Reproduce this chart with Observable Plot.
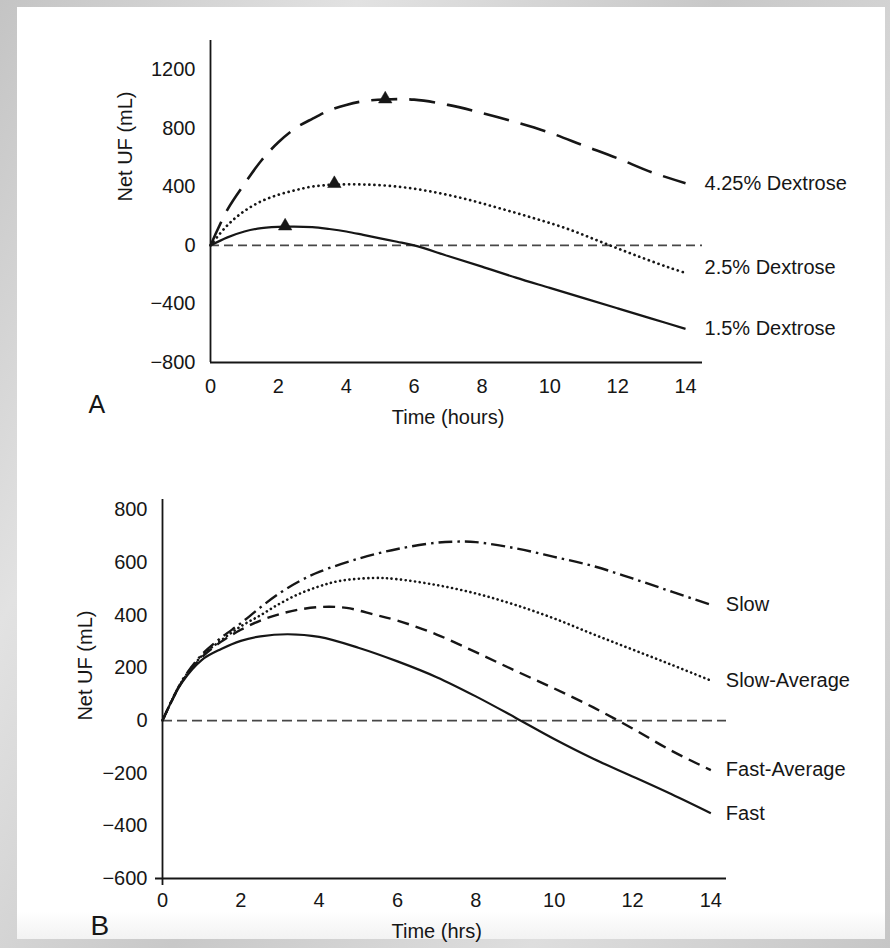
<!DOCTYPE html>
<html>
<head>
<meta charset="utf-8">
<script src="https://cdn.jsdelivr.net/npm/d3@7"></script>
<script src="https://cdn.jsdelivr.net/npm/@observablehq/plot@0.6"></script>
<style>
  html, body { margin: 0; padding: 0; }
  body {
    width: 890px; height: 948px; position: relative; overflow: hidden;
    background: linear-gradient(120deg, #c4c4c4 0%, #e2e2e2 25%, #c8c8c8 50%, #dedede 75%, #c6c6c6 100%);
    font-family: "Liberation Sans", Arial, Helvetica, sans-serif;
  }
  #paper {
    position: absolute; left: 17px; top: 7px; width: 868px; height: 932px;
    background: linear-gradient(180deg, #ffffff 0%, #ffffff 97%, #f2f2f2 100%);
  }
  .panel { position: absolute; left: 0; }
  #panelA { top: 0; }
  #panelB { top: 460px; }
</style>
</head>
<body>
<div id="paper"></div>
<div class="panel" id="panelA"></div>
<div class="panel" id="panelB"></div>
<script>
// ---------- Panel A data ----------
const xTicksA = [0, 2, 4, 6, 8, 10, 12, 14];
const yTicksA = [-800, -400, 0, 400, 800, 1200];
const xLabelA = "Time (hours)";
const yLabelA = "Net UF (mL)";
const panelLetterA = "A";

const d425Name = "4.25% Dextrose";
const d425T = [0, 0.5, 1, 1.5, 2, 2.5, 3, 3.5, 4, 4.5, 5.15, 6, 7, 8, 9, 10, 11, 12, 13, 14];
const d425V = [0, 245, 420, 580, 705, 800, 865, 922, 960, 985, 997, 996, 960, 905, 842, 770, 682, 595, 500, 425];

const d25Name = "2.5% Dextrose";
const d25T = [0, 0.5, 1, 1.5, 2, 2.5, 3, 3.65, 4.5, 5.5, 6.5, 7.5, 8.5, 9.5, 10.5, 11.5, 12.5, 13.5, 14];
const d25V = [0, 138, 235, 302, 346, 377, 402, 415, 416, 402, 368, 318, 255, 188, 115, 25, -65, -150, -188];

const d15Name = "1.5% Dextrose";
const d15T = [0, 0.5, 1, 1.5, 2.2, 3, 3.5, 4, 4.5, 5, 5.5, 6, 7, 8, 9, 10, 11, 12, 13, 14];
const d15V = [0, 55, 95, 118, 128, 125, 112, 95, 72, 48, 25, 0, -72, -145, -220, -290, -360, -430, -500, -570];

const peakT = [2.2, 3.65, 5.15];
const peakV = [132, 422, 1000];

// ---------- Panel B data ----------
const xTicksB = [0, 2, 4, 6, 8, 10, 12, 14];
const yTicksB = [-600, -400, -200, 0, 200, 400, 600, 800];
const xLabelB = "Time (hrs)";
const yLabelB = "Net UF (mL)";
const panelLetterB = "B";

const slowName = "Slow";
const slowT = [0, 0.5, 1, 1.5, 2, 2.5, 3, 3.5, 4, 5, 6, 7, 7.5, 8, 9, 10, 11, 12, 13, 14];
const slowV = [0, 152, 250, 315, 370, 430, 485, 530, 565, 615, 652, 676, 680, 678, 655, 622, 587, 540, 490, 440];

const slowAvgName = "Slow-Average";
const slowAvgT = [0, 0.5, 1, 1.5, 2, 2.5, 3, 3.5, 4, 4.5, 5.4, 6, 7, 8, 9, 10, 11, 12, 13, 14];
const slowAvgV = [0, 150, 245, 305, 358, 400, 445, 482, 510, 530, 542, 537, 515, 483, 440, 388, 328, 270, 212, 152];

const fastAvgName = "Fast-Average";
const fastAvgT = [0, 0.5, 1, 1.5, 2, 2.5, 3, 3.5, 4.1, 4.7, 5.4, 6, 7, 8, 9, 10, 11, 12, 13, 14];
const fastAvgV = [0, 148, 240, 300, 345, 380, 405, 422, 432, 428, 403, 380, 327, 260, 190, 122, 50, -30, -115, -188];

const fastName = "Fast";
const fastT = [0, 0.5, 1, 1.5, 2, 2.5, 3.2, 4, 5, 6, 7, 8, 9, 10, 11, 12, 13, 14];
const fastV = [0, 145, 230, 272, 303, 320, 328, 318, 277, 225, 165, 92, 12, -70, -145, -212, -280, -352];

// ---------- helpers ----------
const ink = "#161616";
const fmt = d => (d < 0 ? "\u2212" + Math.abs(d) : String(d));
const toRows = (T, V) => T.map((t, i) => ({t, v: V[i]}));

function seriesMarks(series) {
  const marks = [];
  for (const s of series) {
    const rows = toRows(s.t, s.v);
    marks.push(Plot.line(rows, {
      x: "t", y: "v", curve: "catmull-rom", stroke: ink,
      strokeWidth: s.style.width, strokeDasharray: s.style.dash,
      strokeLinecap: s.style.cap || "butt"
    }));
    marks.push(Plot.text([{name: s.name, ...rows[rows.length - 1]}], {
      x: "t", y: "v", text: "name", textAnchor: "start",
      dx: s.style.labelDx, dy: s.style.labelDy, fontSize: 20, fill: ink
    }));
  }
  return marks;
}

function basePlot(cfg) {
  const midX = (cfg.xTicks[0] + cfg.xTicks[cfg.xTicks.length - 1]) / 2;
  return Plot.plot({
    width: 890,
    height: cfg.height,
    marginLeft: cfg.ml, marginRight: cfg.mr, marginTop: cfg.mt, marginBottom: cfg.mb,
    x: {domain: cfg.xDomain},
    y: {domain: cfg.yDomain},
    style: {fontFamily: "'Liberation Sans', Arial, Helvetica, sans-serif", fontSize: "20px", color: ink, background: "transparent", overflow: "visible"},
    marks: [
      Plot.ruleY([0], {stroke: "#474747", strokeWidth: 1.7, strokeDasharray: cfg.zeroDash}),
      Plot.ruleX([cfg.xDomain[0]], {stroke: ink, strokeWidth: 1.8, insetBottom: cfg.cross ? -7 : 0}),
      Plot.ruleY([cfg.yDomain[0]], {stroke: ink, strokeWidth: 1.8, insetLeft: cfg.cross ? -7 : 0}),
      Plot.axisX({ticks: cfg.xTicks, tickSize: 0, tickPadding: cfg.xPad, tickFormat: fmt, label: null, fill: ink}),
      Plot.axisY({ticks: cfg.yTicks, tickSize: 0, tickPadding: cfg.yPad, tickFormat: fmt, label: null, fill: ink}),
      ...seriesMarks(cfg.series),
      ...(cfg.extra || []),
      Plot.text([{label: cfg.xLabel, t: midX}], {x: "t", text: "label", frameAnchor: "bottom", dy: cfg.xLabelDy, fontSize: 20, fill: ink}),
      Plot.text([{label: cfg.yLabel, v: cfg.yLabelAt}], {
        y: cfg.yLabelAt === null ? undefined : "v", text: "label", frameAnchor: "left",
        dx: cfg.yLabelDx, rotate: -90, fontSize: 20, fill: ink
      }),
      Plot.text([cfg.letter], {frameAnchor: "bottom-left", textAnchor: "start", dx: cfg.letterDx, dy: cfg.letterDy, fontSize: cfg.letterSize, fill: ink})
    ]
  });
}

// ---------- Panel A ----------
const plotA = basePlot({
  height: 432, ml: 210, mr: 188, mt: 40, mb: 70,
  xDomain: [0, 14.5], yDomain: [-800, 1400],
  xTicks: xTicksA, yTicks: yTicksA, xPad: 16, yPad: 15,
  zeroDash: "9,5", cross: false,
  xLabel: xLabelA, xLabelDy: 61,
  yLabel: yLabelA, yLabelAt: null, yLabelDx: -85,
  letter: panelLetterA, letterDx: -122, letterDy: 50, letterSize: 25,
  series: [
    {name: d425Name, t: d425T, v: d425V, style: {width: 2.6, dash: "26,12", labelDx: 19, labelDy: 0}},
    {name: d25Name, t: d25T, v: d25V, style: {width: 2.7, dash: "0.1,5", cap: "round", labelDx: 19, labelDy: -5}},
    {name: d15Name, t: d15T, v: d15V, style: {width: 2.2, dash: null, labelDx: 19, labelDy: 0}}
  ],
  extra: [
    Plot.dot(toRows(peakT, peakV), {x: "t", y: "v", symbol: "triangle", r: 5, fill: ink, stroke: ink, strokeWidth: 0.5})
  ]
});
document.getElementById("panelA").appendChild(plotA);

// ---------- Panel B ----------
const plotB = basePlot({
  height: 488, ml: 162, mr: 164, mt: 39, mb: 70,
  xDomain: [0, 14.4], yDomain: [-600, 840],
  xTicks: xTicksB, yTicks: yTicksB, xPad: 14, yPad: 15,
  zeroDash: "10,5", cross: true,
  xLabel: xLabelB, xLabelDy: 59,
  yLabel: yLabelB, yLabelAt: 0, yLabelDx: -77,
  letter: panelLetterB, letterDx: -72, letterDy: 56, letterSize: 28,
  series: [
    {name: slowName, t: slowT, v: slowV, style: {width: 2.4, dash: "14,5,2.5,5", labelDx: 15, labelDy: 0}},
    {name: slowAvgName, t: slowAvgT, v: slowAvgV, style: {width: 2.6, dash: "0.1,4.6", cap: "round", labelDx: 15, labelDy: 0}},
    {name: fastAvgName, t: fastAvgT, v: fastAvgV, style: {width: 2.4, dash: "12,7", labelDx: 15, labelDy: 0}},
    {name: fastName, t: fastT, v: fastV, style: {width: 2.2, dash: null, labelDx: 15, labelDy: 0}}
  ]
});
document.getElementById("panelB").appendChild(plotB);
</script>
</body>
</html>
